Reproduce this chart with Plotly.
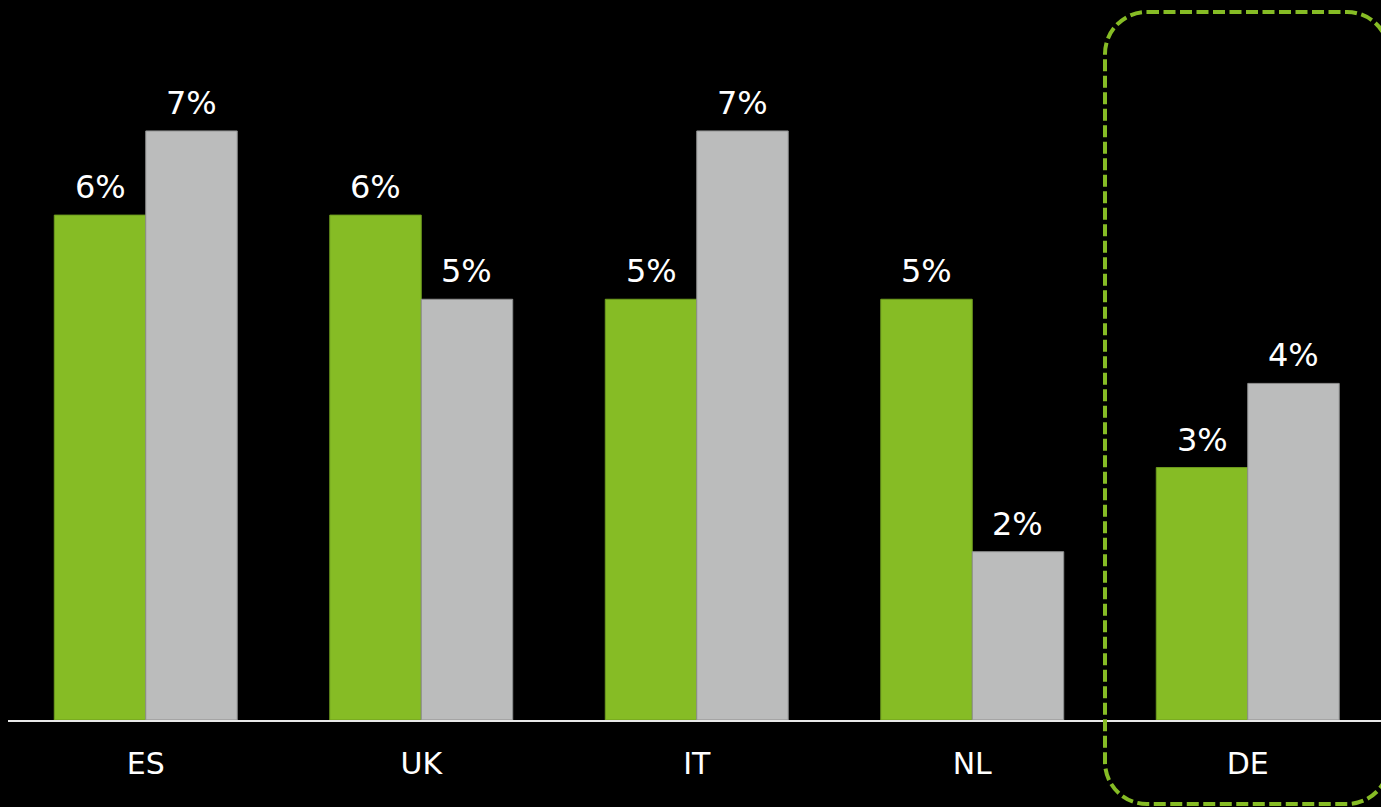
import plotly.graph_objects as go

# Country codes and the two compared series (percent)
countries = ["ES", "UK", "IT", "NL", "DE"]
series_a = [6, 6, 5, 5, 3]
series_b = [7, 5, 7, 2, 4]

GREEN = "#86BC25"
GREY = "#BBBCBC"
FONT = "DejaVu Sans"

W, H = 1381, 807
M_L, M_R, M_T, M_B = 8, 0, 0, 87
plot_w = W - M_L - M_R
plot_h = H - M_T - M_B
px_per_cat = 275.5
px_per_unit = 84.15

fig = go.Figure()
fig.add_bar(x=countries, y=series_a, marker=dict(color=GREEN, line=dict(color="#6E9C1E", width=1)),
            hoverinfo="skip", showlegend=False)
fig.add_bar(x=countries, y=series_b, marker=dict(color=GREY, line=dict(color="#8E8F8F", width=1)),
            hoverinfo="skip", showlegend=False)

# Value labels above each bar
bar_half = px_per_cat * (1 - 0.336) / 4
for c, a, b in zip(countries, series_a, series_b):
    for val, shift in ((a, -bar_half), (b, bar_half)):
        fig.add_annotation(x=c, y=val, xref="x", yref="y", text=f"{val}%", showarrow=False,
                           xshift=shift, yanchor="bottom", yshift=7,
                           font=dict(family=FONT, size=32, color="white"))

# Dashed rounded frame highlighting the last group (pixel geometry -> paper coords)
def px_to_paper(px, py):
    return (px - M_L) / plot_w, (H - M_B - py) / plot_h

x0, x1, y0, y1, r = 1105, 1389, 12, 804, 42
k = 0.5523 * r
pts = [
    ("M", [(x0 + r, y0)]),
    ("L", [(x1 - r, y0)]),
    ("C", [(x1 - r + k, y0), (x1, y0 + r - k), (x1, y0 + r)]),
    ("L", [(x1, y1 - r)]),
    ("C", [(x1, y1 - r + k), (x1 - r + k, y1), (x1 - r, y1)]),
    ("L", [(x0 + r, y1)]),
    ("C", [(x0 + r - k, y1), (x0, y1 - r + k), (x0, y1 - r)]),
    ("L", [(x0, y0 + r)]),
    ("C", [(x0, y0 + r - k), (x0 + r - k, y0), (x0 + r, y0)]),
]
path = ""
for cmd, ps in pts:
    path += cmd + " " + " ".join("%.5f,%.5f" % px_to_paper(*p) for p in ps) + " "
path += "Z"
fig.add_shape(type="path", path=path, xref="paper", yref="paper",
              line=dict(color=GREEN, width=4, dash="12px,4.5px"), layer="above")

fig.update_layout(
    width=W, height=H,
    margin=dict(l=M_L, r=M_R, t=M_T, b=M_B),
    paper_bgcolor="black", plot_bgcolor="black",
    barmode="group", bargap=0.336, bargroupgap=0,
    font=dict(family=FONT, color="white"),
    xaxis=dict(type="category", range=[-0.5, -0.5 + plot_w / px_per_cat],
               showgrid=False, zeroline=False, showline=True, linecolor="#E8E8E8", linewidth=2,
               ticks="", ticklabelstandoff=16, tickfont=dict(family=FONT, size=30, color="white")),
    yaxis=dict(range=[0, plot_h / px_per_unit], visible=False, showgrid=False, zeroline=False),
)

fig.write_html("out.html")
